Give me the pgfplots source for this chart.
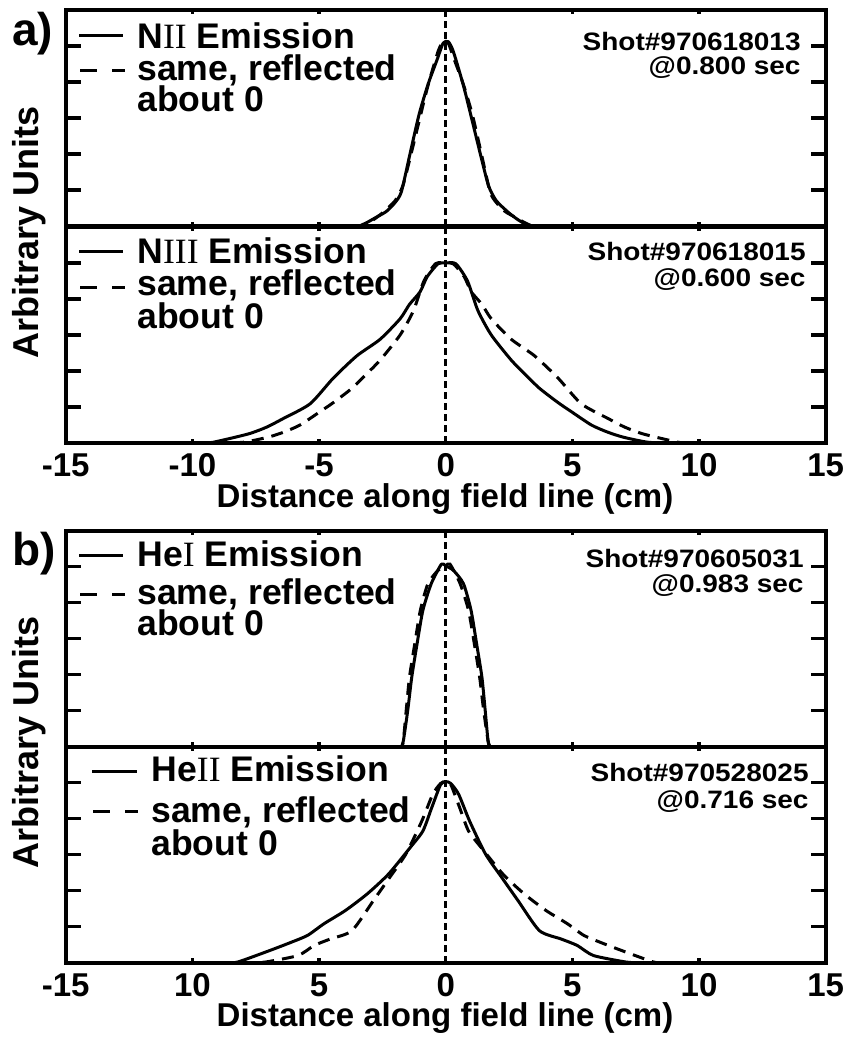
\documentclass[border=0pt]{standalone}
\usepackage{fontspec}
\setmainfont{Liberation Sans}
\newfontfamily\rmnum{Liberation Serif}
\usepackage{pgfplots}
\usepackage{pgfplotstable}
\pgfplotsset{compat=1.18}

% N II emission, shot 970618013
\pgfplotstableread{
x y
-3.40 0
-3.10 0.10
-2.75 0.24
-2.35 0.40
-2.00 0.65
-1.75 0.95
-1.41 2.00
-1.05 3.10
-0.69 3.95
-0.35 4.60
-0.10 5.08
0.10 5.12
0.30 4.85
0.70 3.90
1.03 2.97
1.35 2.05
1.69 1.12
2.00 0.70
2.47 0.38
2.80 0.20
3.10 0.07
3.40 0
}\nii

% N III emission, shot 970618015
\pgfplotstableread{
x y
-9.60 0
-9.18 0.02
-7.80 0.25
-7.07 0.44
-6.41 0.68
-5.35 1.09
-4.44 1.80
-3.51 2.42
-2.59 2.88
-1.80 3.45
-1.43 3.85
-1.01 4.20
-0.73 4.62
-0.30 4.98
0.00 5.00
0.40 4.98
0.86 4.50
1.27 3.68
1.80 3.00
2.59 2.30
3.12 1.92
3.70 1.52
4.44 1.12
4.94 0.88
5.75 0.50
6.40 0.30
7.02 0.16
8.00 0.02
9.10 0
}\niii

% He I emission, shot 970605031
\pgfplotstableread{
x y
-1.75 0
-1.67 0.17
-1.50 1.00
-1.34 1.93
-1.13 2.86
-0.90 3.79
-0.57 4.53
-0.17 5.07
0.00 5.02
0.30 4.90
0.70 4.53
1.00 3.79
1.22 2.86
1.43 1.93
1.56 1.00
1.67 0.17
1.73 0
}\hei

% He II emission, shot 970528025
\pgfplotstableread{
x y
-8.60 0
-8.20 0.02
-6.94 0.34
-6.09 0.57
-5.45 0.76
-4.81 1.08
-3.96 1.45
-3.10 1.91
-2.26 2.46
-1.40 3.20
-0.90 3.66
-0.55 4.31
-0.20 4.95
0.00 5.03
0.20 4.98
0.51 4.68
0.94 3.94
1.57 3.02
2.21 2.37
2.85 1.73
3.70 0.89
4.55 0.66
5.19 0.48
5.83 0.20
7.10 0.02
7.60 0
}\heii

\pgfplotsset{
  panel/.style={
    scale only axis, width=380pt, height=108pt, anchor=north west,
    xmin=-15, xmax=15, ymin=0, ymax=6,
    xtick={-15,-10,...,15}, minor xtick={-15,-10,...,15},
    major x tick style={draw=none},
    ytick={1,2,3,4,5}, yticklabels={},
    major tick length=7.5pt, minor tick length=2.2pt,
    every tick/.append style={black, line width=1.6pt},
    axis line style={line width=2pt},
    xticklabel style={font=\bfseries\fontsize{16.5}{18}\selectfont,
      anchor=base, inner sep=0pt, yshift=-17pt},
  },
}
\tikzset{
  emis/.style={black, line width=1.5pt, line join=round},
  refl/.style={black, line width=1.5pt, dash pattern=on 6pt off 4pt},
  zero/.style={black, line width=1.3pt, dash pattern=on 3.5pt off 2pt},
  lgd/.style={black, line width=1.5pt, dash pattern=on 8.5pt off 7.5pt},
  lgtext/.style={anchor=base west, inner sep=0pt, font=\bfseries\fontsize{17.8}{20}\selectfont},
  shtext/.style={anchor=base east, inner sep=0pt, font=\bfseries\fontsize{14}{16}\selectfont},
}
\newcommand\sq[1]{\scalebox{1}[0.9]{#1}}

\begin{document}
\begin{tikzpicture}
\useasboundingbox (0pt,0pt) rectangle (422pt,-519.5pt);

\begin{axis}[panel, at={(32.85pt,-5pt)}, xticklabels={}]
  \addplot[zero] coordinates {(0,0) (0,6)};
  \addplot[emis, smooth, tension=0.4] table[x=x, y=y] {\nii};
  \addplot[refl, smooth, tension=0.4] table[x expr=-\thisrow{x}, y=y] {\nii};
\end{axis}

\begin{axis}[panel, at={(32.85pt,-113.5pt)}, xticklabels={-15,-10,-5,0,5,10,15}]
  \addplot[zero] coordinates {(0,0) (0,6)};
  \addplot[emis, smooth, tension=0.4] table[x=x, y=y] {\niii};
  \addplot[refl, smooth, tension=0.4] table[x expr=-\thisrow{x}, y=y] {\niii};
\end{axis}

\begin{axis}[panel, at={(32.85pt,-265.35pt)}, xticklabels={}]
  \addplot[zero] coordinates {(0,0) (0,6)};
  \addplot[emis, smooth, tension=0.4] table[x=x, y=y] {\hei};
  \addplot[refl, smooth, tension=0.4] table[x expr=-\thisrow{x}, y=y] {\hei};
\end{axis}

\begin{axis}[panel, at={(32.85pt,-373.35pt)}, xticklabels={-15,10,5,0,5,10,15}]
  \addplot[zero] coordinates {(0,0) (0,6)};
  \addplot[emis, smooth, tension=0.4] table[x=x, y=y] {\heii};
  \addplot[refl, smooth, tension=0.4] table[x expr=-\thisrow{x}, y=y] {\heii};
\end{axis}

% text in pixel units of the reference
\begin{scope}[x=0.5pt, y=-0.5pt, font=\bfseries]
  \node[anchor=base west, inner sep=0pt, font=\bfseries\fontsize{23}{26}\selectfont] at (12,45) {a)};
  \node[anchor=base west, inner sep=0pt, font=\bfseries\fontsize{23}{26}\selectfont] at (12,565) {b)};
  \node[rotate=90, font=\bfseries\fontsize{18}{20}\selectfont] at (29,232) {Arbitrary Units};
  \node[rotate=90, font=\bfseries\fontsize{18}{20}\selectfont] at (29,742) {Arbitrary Units};
  \node[anchor=base, inner sep=0pt, font=\bfseries\fontsize{16.5}{18}\selectfont] at (445,507) {Distance along field line (cm)};
  \node[anchor=base, inner sep=0pt, font=\bfseries\fontsize{16.5}{18}\selectfont] at (445,1026) {Distance along field line (cm)};

  % legends
  \draw[emis] (79,35) -- (123,35);
  \draw[lgd] (80,70.7) -- (125,70.7);
  \node[lgtext] at (137,48.3) {N{\rmnum\mdseries II} Emission};
  \node[lgtext] at (137,80) {same, reflected};
  \node[lgtext] at (137,111.7) {about 0};

  \draw[emis] (79,251.7) -- (123,251.7);
  \draw[lgd] (80,287.3) -- (125,287.3);
  \node[lgtext] at (137,263.3) {N{\rmnum\mdseries III} Emission};
  \node[lgtext] at (137,295) {same, reflected};
  \node[lgtext] at (137,328) {about 0};

  \draw[emis] (79,555) -- (123,555);
  \draw[lgd] (80,594) -- (125,594);
  \node[lgtext] at (137,566) {He{\rmnum\mdseries I} Emission};
  \node[lgtext] at (137,604) {same, reflected};
  \node[lgtext] at (137,635) {about 0};

  \draw[emis] (92,771.7) -- (137,771.7);
  \draw[lgd] (93,811) -- (138,811);
  \node[lgtext] at (151,781) {He{\rmnum\mdseries II} Emission};
  \node[lgtext] at (151,822) {same, reflected};
  \node[lgtext] at (151,855) {about 0};

  % shot numbers
  \node[shtext] at (801,50) {\sq{Shot\#970618013}};
  \node[shtext] at (801,74) {\sq{@0.800 sec}};
  \node[shtext] at (806,260) {\sq{Shot\#970618015}};
  \node[shtext] at (806,286) {\sq{@0.600 sec}};
  \node[shtext] at (804,567) {\sq{Shot\#970605031}};
  \node[shtext] at (804,592) {\sq{@0.983 sec}};
  \node[shtext] at (809,781) {\sq{Shot\#970528025}};
  \node[shtext] at (809,808) {\sq{@0.716 sec}};
\end{scope}
\end{tikzpicture}
\end{document}
